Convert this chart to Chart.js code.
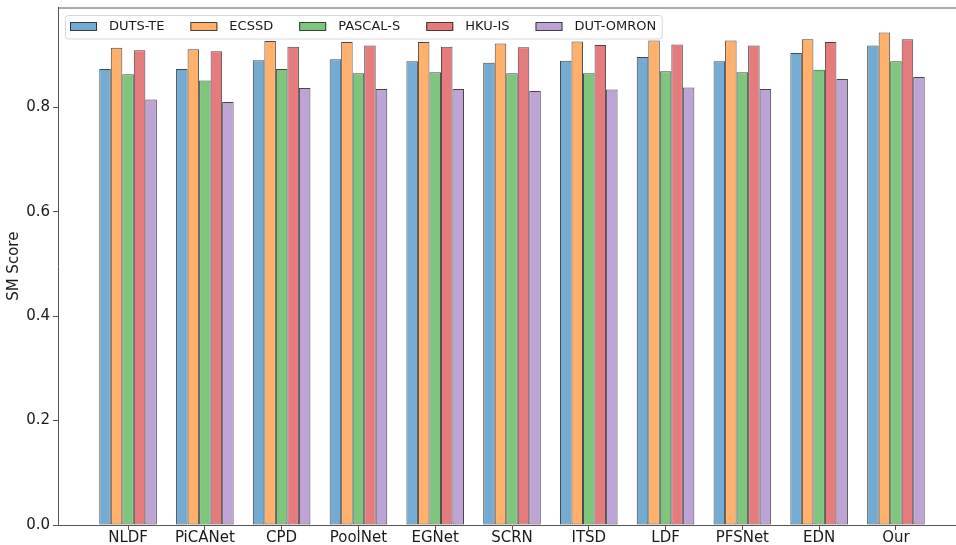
<!DOCTYPE html>
<html>
<head>
<meta charset="utf-8">
<script src="https://cdn.jsdelivr.net/npm/chart.js@4"></script>
<style>
  html, body { margin: 0; padding: 0; background: #fff; overflow: hidden; }
  #wrap { width: 968px; height: 545px; }
</style>
</head>
<body>
<div id="wrap"><canvas id="smChart"></canvas></div>
<script>
const methods = ['NLDF', 'PiCANet', 'CPD', 'PoolNet', 'EGNet', 'SCRN', 'ITSD', 'LDF', 'PFSNet', 'EDN', 'Our'];
const seriesNames = ['DUTS-TE', 'ECSSD', 'PASCAL-S', 'HKU-IS', 'DUT-OMRON'];

const dutsTE   = [0.873, 0.873, 0.890, 0.892, 0.888, 0.885, 0.889, 0.896, 0.888, 0.904, 0.918];
const ecssd    = [0.914, 0.911, 0.927, 0.925, 0.925, 0.922, 0.926, 0.928, 0.928, 0.930, 0.943];
const pascalS  = [0.863, 0.851, 0.873, 0.865, 0.867, 0.865, 0.865, 0.869, 0.867, 0.872, 0.888];
const hkuIS    = [0.909, 0.907, 0.916, 0.918, 0.916, 0.915, 0.919, 0.920, 0.918, 0.925, 0.930];
const dutOmron = [0.815, 0.810, 0.837, 0.835, 0.835, 0.831, 0.834, 0.838, 0.835, 0.854, 0.858];

const yTicks = [0.0, 0.2, 0.4, 0.6, 0.8];

const seriesValues = [dutsTE, ecssd, pascalS, hkuIS, dutOmron];
const fills = ['#74abd2', '#ffb16c', '#7ec57e', '#e57b7d', '#bda3d6'];

const FONT = '"DejaVu Sans", sans-serif';

// matplotlib-like legend box drawn inside the plot area
const innerLegend = {
  id: 'innerLegend',
  afterDraw(chart) {
    const ctx = chart.ctx;
    ctx.save();
    ctx.font = '13px ' + FONT;
    let x = 70;
    const items = chart.data.datasets.map(ds => {
      const w = ctx.measureText(ds.label).width;
      const it = { ds, x, w };
      x += 27 + 12 + w + 26;
      return it;
    });
    const right = x - 26 + 6;
    // frame
    ctx.beginPath();
    ctx.roundRect(65.5, 15.5, right - 65.5, 23.5, 3);
    ctx.fillStyle = 'rgba(255,255,255,0.8)';
    ctx.fill();
    ctx.strokeStyle = '#d8d8d8';
    ctx.lineWidth = 1;
    ctx.stroke();
    items.forEach(it => {
      ctx.fillStyle = it.ds.backgroundColor;
      ctx.fillRect(it.x, 22.5, 27, 8);
      ctx.strokeStyle = 'rgba(0,0,0,0.7)';
      ctx.strokeRect(it.x + 0.5, 22.5, 26, 8);
      ctx.fillStyle = '#1a1a1a';
      ctx.textBaseline = 'middle';
      ctx.fillText(it.ds.label, it.x + 39, 27);
    });
    ctx.restore();
  }
};

// top spine
const frame = {
  id: 'frame',
  afterDatasetsDraw(chart) {
    const a = chart.chartArea;
    const ctx = chart.ctx;
    ctx.save();
    ctx.strokeStyle = '#555';
    ctx.lineWidth = 1;
    ctx.beginPath();
    ctx.moveTo(a.left, a.top + 0.5);
    ctx.lineTo(a.right, a.top + 0.5);
    ctx.stroke();
    ctx.restore();
  }
};

new Chart(document.getElementById('smChart'), {
  type: 'bar',
  data: {
    datasets: seriesNames.map((name, k) => ({
      label: name,
      data: seriesValues[k].map((v, i) => ({ x: i, y: v })),
      backgroundColor: fills[k],
      borderColor: 'rgba(0,0,0,0.72)',
      borderWidth: 1,
      borderSkipped: false,
      categoryPercentage: 0.75,
      barPercentage: 1.0
    }))
  },
  options: {
    responsive: true,
    maintainAspectRatio: false,
    animation: false,
    layout: { padding: { top: 7.5, right: 2, left: 0, bottom: 0 } },
    plugins: { legend: { display: false }, tooltip: { enabled: false } },
    scales: {
      x: {
        type: 'linear',
        offset: false,
        min: -0.9125,
        max: 10.9125,
        afterBuildTicks: s => { s.ticks = methods.map((m, i) => ({ value: i })); },
        afterFit: s => { s.height = 20; s.paddingLeft = 0; s.paddingRight = 0; },
        ticks: {
          autoSkip: false,
          maxRotation: 0,
          padding: 1,
          color: '#1a1a1a',
          font: { family: FONT, size: 15, lineHeight: 1 },
          callback: v => methods[v]
        },
        grid: { drawOnChartArea: false, offset: false, tickLength: 5, color: '#555' },
        border: { color: '#555', width: 1 }
      },
      y: {
        min: 0,
        max: 0.991,
        afterBuildTicks: s => { s.ticks = yTicks.map(v => ({ value: v })); },
        afterFit: s => { s.width = 58; s.paddingTop = 0; s.paddingBottom = 0; },
        ticks: {
          padding: 3,
          color: '#1a1a1a',
          font: { family: FONT, size: 15 },
          callback: v => v.toFixed(1)
        },
        grid: { drawOnChartArea: false, tickLength: 5, color: '#555' },
        border: { color: '#555', width: 1 },
        title: {
          display: true,
          text: 'SM Score',
          color: '#1a1a1a',
          padding: { top: 5 },
          font: { family: FONT, size: 15 }
        }
      }
    }
  },
  plugins: [frame, innerLegend]
});
</script>
</body>
</html>
